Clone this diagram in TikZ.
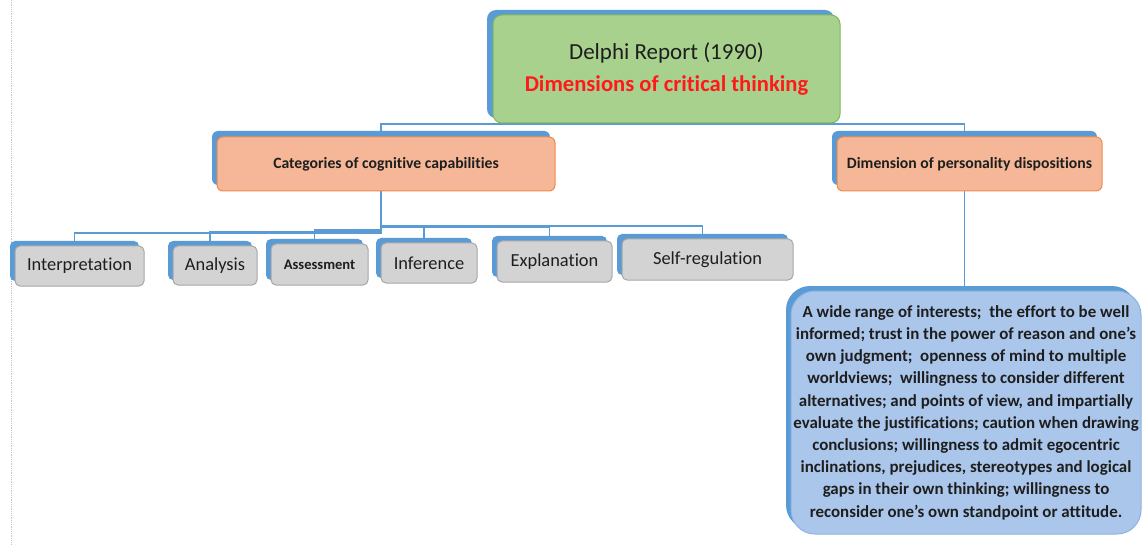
\documentclass[tikz,border=0pt]{standalone}
\usepackage{fontspec}
\setmainfont{Carlito}[Ligatures=NoCommon]
\definecolor{shblue}{HTML}{5B9BD5}
\definecolor{conncol}{HTML}{5B9BD5}
\definecolor{grfill}{HTML}{A9D18E}
\definecolor{grdraw}{HTML}{7FB85A}
\definecolor{orfill}{HTML}{F5B797}
\definecolor{ordraw}{HTML}{F08A4B}
\definecolor{gyfill}{HTML}{D3D3D3}
\definecolor{gydraw}{HTML}{A6A6A6}
\definecolor{bgfill}{HTML}{AAC6EA}
\definecolor{bgdraw}{HTML}{8DB3E2}
\definecolor{redtxt}{HTML}{FF1A1A}
\definecolor{txt}{HTML}{1E1E1E}
\tikzset{
  conn/.style={draw=conncol, line width=1.7pt},
  backbox/.style={fill=shblue, draw=none, inner sep=0pt, outer sep=0pt},
  greenbox/.style={fill=grfill, draw=grdraw, line width=1pt, rounded corners=9pt, inner sep=0pt, outer sep=0pt, align=center, text=txt},
  orangebox/.style={fill=orfill, draw=ordraw, line width=1pt, rounded corners=6pt, inner sep=0pt, outer sep=0pt, text=txt, font=\bfseries\fontsize{15.7}{18}\selectfont},
  greybox/.style={fill=gyfill, draw=gydraw, line width=1pt, rounded corners=5pt, inner sep=0pt, outer sep=0pt, text=txt, font=\fontsize{18.4}{22}\selectfont},
  bigbox/.style={fill=bgfill, draw=bgdraw, line width=1pt, rounded corners=24pt, inner sep=0pt, outer sep=0pt, text=txt, align=center, font=\bfseries\fontsize{16.9}{22.2}\selectfont},
}
\begin{document}
\begin{tikzpicture}[x=1pt,y=-1pt]
\useasboundingbox (0,0) rectangle (1142,545);
\draw[gray!45, densely dotted, line width=0.8pt] (11,0) -- (11,545);

% back (layout) boxes
\node[backbox, rounded corners=9pt, minimum width=347pt, minimum height=108pt] (topb) at (660.5,64) {};
\node[backbox, rounded corners=6pt, minimum width=338pt, minimum height=54pt] (catb) at (381,158) {};
\node[backbox, rounded corners=6pt, minimum width=265pt, minimum height=54pt] (persb) at (964.5,158) {};
\node[backbox, rounded corners=5pt, minimum width=129pt, minimum height=40pt] (interpb) at (74.5,261) {};
\node[backbox, rounded corners=5pt, minimum width=84pt, minimum height=39pt] (analb) at (210,260.5) {};
\node[backbox, rounded corners=5pt, minimum width=97pt, minimum height=41pt] (assb) at (314.5,259.5) {};
\node[backbox, rounded corners=5pt, minimum width=96pt, minimum height=40pt] (infb) at (424,258) {};
\node[backbox, rounded corners=5pt, minimum width=115pt, minimum height=41pt] (explb) at (549.5,256.5) {};
\node[backbox, rounded corners=5pt, minimum width=171pt, minimum height=41pt] (selfb) at (702.5,254.5) {};
\node[backbox, rounded corners=24pt, minimum width=350pt, minimum height=243pt] (bigb) at (961,407.5) {};

% connectors
\draw[conn] (topb.south) -- ++(0,6) -| (catb.north);
\draw[conn] (topb.south) -- ++(0,6) -| (persb.north);
\draw[conn] (catb.south) -- ++(0,48) -| (interpb.north);
\draw[conn] (catb.south) -- ++(0,47) -| (analb.north);
\draw[conn] (catb.south) -- ++(0,45) -| (assb.north);
\draw[conn] (catb.south) -- ++(0,42) -| (infb.north);
\draw[conn] (catb.south) -- ++(0,42) -| (explb.north);
\draw[conn] (catb.south) -- ++(0,41) -| (selfb.north);
\draw[conn] (persb.south) -- (persb.south |- bigb.north);

% front boxes
\node[greenbox, minimum width=347pt, minimum height=108pt] (top) at (666.5,69)
  {{\fontsize{23}{27}\selectfont Delphi Report (1990)}\\[12pt]
   {\bfseries\color{redtxt}\fontsize{22.6}{27}\selectfont Dimensions of critical thinking}};
\node[orangebox, minimum width=338pt, minimum height=54pt] (cat) at (386,164) {Categories of cognitive capabilities};
\node[orangebox, minimum width=265pt, minimum height=54pt] (pers) at (969.5,164) {Dimension of personality dispositions};
\node[greybox, minimum width=129pt, minimum height=40pt] (interp) at (79.5,266) {Interpretation};
\node[greybox, minimum width=84pt, minimum height=39pt] (anal) at (215,265.5) {Analysis};
\node[greybox, minimum width=97pt, minimum height=41pt, font=\bfseries\fontsize{14.6}{18}\selectfont] (ass) at (319.5,264.5) {Assessment};
\node[greybox, minimum width=96pt, minimum height=40pt] (inf) at (429,263) {Inference};
\node[greybox, minimum width=115pt, minimum height=41pt] (expl) at (554.5,261.5) {Explanation};
\node[greybox, minimum width=171pt, minimum height=41pt] (self) at (707.5,259.5) {Self-regulation};
\node[bigbox, minimum width=350pt, minimum height=243pt] (big) at (966,412.5)
  {A wide range of interests;\ \ the effort to be well\\
   informed; trust in the power of reason and one's\\
   own judgment;\ \ openness of mind to multiple\\
   worldviews;\ \ willingness to consider different\\
   alternatives; and points of view, and impartially\\
   evaluate the justifications; caution when drawing\\
   conclusions; willingness to admit egocentric\\
   inclinations, prejudices, stereotypes and logical\\
   gaps in their own thinking; willingness to\\
   reconsider one's own standpoint or attitude.};
\end{tikzpicture}
\end{document}
